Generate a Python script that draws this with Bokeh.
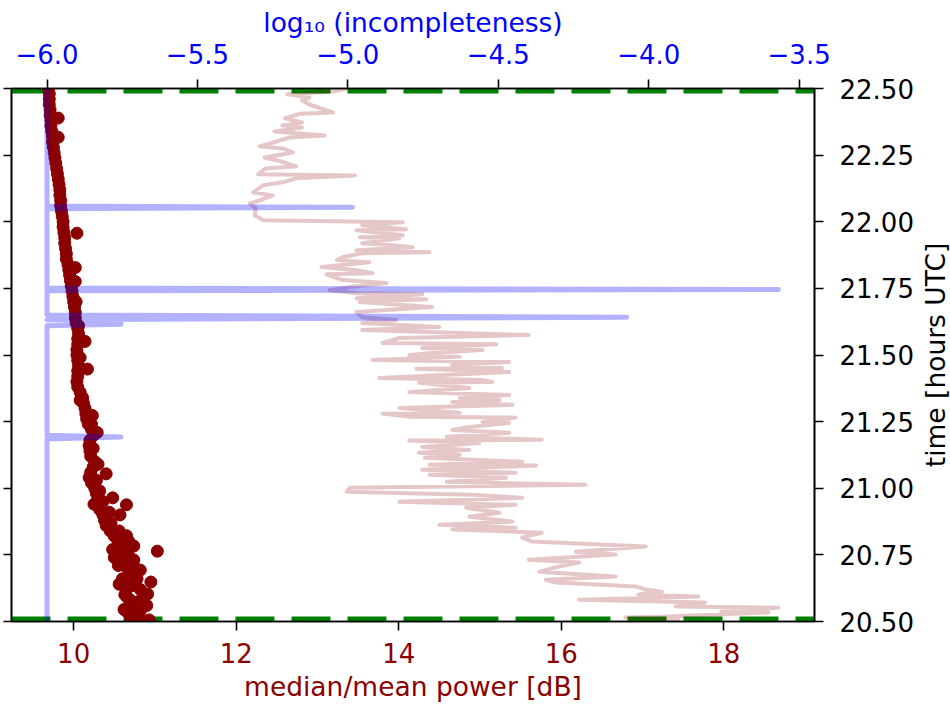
import math
from bokeh.plotting import figure
from bokeh.layouts import row
from bokeh.models import Range1d, LinearAxis, FixedTicker, CustomJSTickFormatter
from bokeh.core.properties import value
from bokeh.embed import file_html
from bokeh.resources import INLINE

FONT = "DejaVu Sans"

# ---------------- data ----------------
# median/mean power [dB] (dark red dots) vs time [hours UTC]
red_t = [20.50, 20.52, 20.54, 20.56, 20.58, 20.60, 20.62, 20.64, 20.66, 20.68,
         20.70, 20.72, 20.74, 20.76, 20.78, 20.80, 20.82, 20.84, 20.86, 20.88,
         20.90, 20.92, 20.94, 20.96, 20.98, 21.00, 21.02, 21.04, 21.06, 21.08,
         21.10, 21.12, 21.14, 21.16, 21.18, 21.20, 21.22, 21.24, 21.26, 21.28,
         21.30, 21.32, 21.34, 21.36, 21.38, 21.40, 21.42, 21.44, 21.46, 21.48,
         21.50, 21.52, 21.54, 21.56, 21.58, 21.60, 21.62, 21.64, 21.66, 21.68,
         21.70, 21.72, 21.74, 21.76, 21.78, 21.80, 21.82, 21.84, 21.86, 21.88,
         21.90, 21.92, 21.94, 21.96, 21.98, 22.00, 22.02, 22.04, 22.06, 22.08,
         22.10, 22.12, 22.14, 22.16, 22.18, 22.20, 22.22, 22.24, 22.26, 22.28,
         22.30, 22.32, 22.34, 22.36, 22.38, 22.40, 22.42, 22.44, 22.46, 22.48,
         22.50]
red_db = [10.84, 10.80, 10.82, 10.75, 10.70, 10.63, 10.65, 10.56, 10.60, 10.70,
          10.66, 10.60, 10.50, 10.62, 10.58, 10.55, 10.50, 10.45, 10.40, 10.38,
          10.36, 10.32, 10.25, 10.30, 10.28, 10.26, 10.22, 10.19, 10.21, 10.24,
          10.26, 10.21, 10.20, 10.19, 10.20, 10.25, 10.22, 10.18, 10.16, 10.15,
          10.14, 10.12, 10.11, 10.08, 10.05, 10.04, 10.05, 10.05, 10.06, 10.05,
          10.04, 10.04, 10.05, 10.05, 10.06, 10.05, 10.03, 10.02, 10.02, 10.01,
          10.00, 9.99, 9.98, 9.97, 9.96, 9.95, 9.94, 9.93, 9.91, 9.91,
          9.90, 9.89, 9.89, 9.88, 9.87, 9.87, 9.86, 9.85, 9.84, 9.84,
          9.83, 9.83, 9.82, 9.81, 9.80, 9.79, 9.78, 9.77, 9.76, 9.75,
          9.74, 9.74, 9.73, 9.72, 9.72, 9.71, 9.71, 9.70, 9.70, 9.70,
          9.69]
red_t_extra = [22.389, 22.317, 21.957, 21.828, 21.776, 21.551, 21.447, 21.273, 21.209,
               21.054, 20.964, 20.938, 20.900, 20.822, 20.783, 20.764, 20.731, 20.693,
               20.648, 20.603, 20.538, 20.506, 20.560, 20.620, 20.670, 20.710, 20.525,
               20.515, 20.545, 20.575, 20.590, 20.635, 20.660, 20.700, 20.745, 20.770,
               20.800, 20.840, 20.870, 20.910, 20.950, 20.990, 21.030, 21.090, 21.150,
               21.240, 21.330, 21.490, 21.610, 21.700]
red_db_extra = [9.81, 9.81, 10.04, 10.02, 10.02, 10.14, 10.17, 10.23, 10.29,
                10.40, 10.48, 10.65, 10.57, 10.65, 10.74, 11.03, 10.74, 10.82,
                10.95, 10.91, 10.65, 10.93, 10.90, 10.82, 10.70, 10.55, 10.74,
                10.70, 10.62, 10.80, 10.66, 10.72, 10.78, 10.76, 10.68, 10.48,
                10.68, 10.56, 10.46, 10.44, 10.36, 10.32, 10.28, 10.30, 10.24,
                10.22, 10.08, 10.08, 10.06, 10.03]

# second power series (pale line) vs time
pink_t = [22.500, 22.489, 22.478, 22.466, 22.455, 22.440, 22.410, 22.405, 22.388, 22.373,
          22.361, 22.354, 22.339, 22.324, 22.316, 22.283, 22.275, 22.260, 22.241, 22.230,
          22.208, 22.200, 22.178, 22.174, 22.163, 22.148, 22.137, 22.110, 22.099, 22.080,
          22.069, 22.051, 22.024, 22.006, 21.998, 21.987, 21.972, 21.968, 21.949, 21.942,
          21.938, 21.919, 21.912, 21.904, 21.893, 21.886, 21.882, 21.867, 21.856, 21.848,
          21.830, 21.818, 21.807, 21.803, 21.781, 21.770, 21.755, 21.743, 21.732, 21.728,
          21.713, 21.709, 21.699, 21.680, 21.661, 21.642, 21.631, 21.620, 21.605, 21.594,
          21.575, 21.564, 21.545, 21.540, 21.526, 21.519, 21.507, 21.500, 21.493, 21.481,
          21.474, 21.463, 21.451, 21.448, 21.436, 21.414, 21.406, 21.399, 21.396, 21.376,
          21.361, 21.350, 21.339, 21.331, 21.324, 21.313, 21.301, 21.283, 21.280, 21.268,
          21.265, 21.249, 21.245, 21.230, 21.219, 21.208, 21.193, 21.182, 21.179, 21.170,
          21.155, 21.144, 21.133, 21.125, 21.114, 21.099, 21.088, 21.085, 21.069, 21.058,
          21.051, 21.039, 21.024, 21.013, 21.002, 20.987, 20.984, 20.976, 20.964, 20.949,
          20.938, 20.927, 20.908, 20.893, 20.875, 20.863, 20.852, 20.845, 20.833, 20.815,
          20.800, 20.781, 20.762, 20.751, 20.732, 20.721, 20.706, 20.687, 20.676, 20.669,
          20.657, 20.646, 20.631, 20.620, 20.612, 20.601, 20.594, 20.582, 20.571, 20.556,
          20.552, 20.537, 20.534, 20.519, 20.515, 20.507]
pink_db = [13.36, 13.19, 12.63, 12.90, 12.81, 12.90, 13.19, 12.78, 12.60, 12.81,
           12.57, 12.81, 12.47, 13.09, 12.66, 12.29, 12.57, 12.70, 12.35, 12.51,
           12.74, 12.36, 12.27, 13.46, 12.74, 12.57, 12.33, 12.21, 12.45, 12.29,
           12.17, 12.24, 12.23, 12.33, 14.05, 13.55, 14.09, 13.48, 14.05, 13.52,
           14.01, 13.55, 13.92, 14.17, 13.48, 14.38, 13.55, 13.31, 13.24, 13.64,
           13.05, 13.48, 13.68, 13.11, 13.31, 13.85, 13.40, 13.15, 13.48, 14.29,
           13.48, 14.34, 13.52, 14.41, 13.48, 13.55, 13.97, 13.55, 14.50, 13.55,
           15.60, 14.01, 13.80, 15.20, 14.29, 15.03, 14.38, 14.13, 14.75, 13.68,
           15.36, 14.66, 15.27, 14.22, 15.36, 13.76, 15.03, 15.15, 14.25, 14.87,
           14.13, 15.36, 14.75, 15.24, 14.66, 15.40, 14.01, 14.75, 13.80, 14.13,
           15.44, 15.03, 15.36, 14.87, 14.66, 15.36, 14.59, 15.76, 14.13, 14.99,
           14.29, 14.87, 14.25, 14.75, 14.32, 15.52, 14.38, 15.69, 14.29, 15.44,
           14.38, 15.32, 14.59, 16.30, 13.40, 13.36, 13.73, 14.90, 15.52, 14.01,
           15.44, 14.83, 15.24, 14.87, 15.40, 14.50, 15.44, 14.66, 15.76, 15.52,
           15.64, 17.04, 16.18, 16.67, 15.60, 16.22, 15.97, 15.73, 16.25, 16.67,
           15.81, 15.93, 16.92, 17.04, 17.24, 16.95, 17.69, 16.22, 17.77, 17.41,
           18.67, 17.97, 18.55, 17.32, 16.79, 17.44]

# log10(incompleteness) vs time (blue)
blue_t = [20.500, 21.185, 21.192, 21.199, 21.610, 21.615, 21.620, 21.626, 21.632,
          21.642, 21.650, 21.741, 21.746, 21.751, 22.049, 22.054, 22.059, 22.500]
blue_log = [-6.0, -6.0, -5.754, -6.0, -6.0, -5.754, -5.80, -5.754, -6.0,
            -4.073, -6.0, -6.0, -3.569, -6.0, -6.0, -4.985, -6.0, -6.0]

# observation window limits (green dashed)
limit_times = [20.5, 22.5]

# axes
power_range = (9.235, 19.117)
inc_range = (-6.118, -3.449)
time_range = (20.5, 22.5)
power_ticks = [10, 12, 14, 16, 18]
inc_ticks = [-6.0, -5.5, -5.0, -4.5, -4.0, -3.5]
time_ticks = [20.5, 20.75, 21.0, 21.25, 21.5, 21.75, 22.0, 22.25, 22.5]

# ---------------- layout ----------------
W_MAIN, W_SIDE, H = 916, 34, 704
BL, BR, BT, BB = 11, 100, 88, 82          # borders around the plot frame

p = figure(width=W_MAIN, height=H,
           x_range=Range1d(*power_range), y_range=Range1d(*time_range),
           output_backend="svg", toolbar_location=None,
           x_axis_location="below", y_axis_location="right",
           min_border_left=BL, min_border_right=BR,
           min_border_top=BT, min_border_bottom=BB)
p.extra_x_ranges = {"inc": Range1d(*inc_range)}
p.xgrid.visible = False
p.ygrid.visible = False
p.outline_line_color = "black"
p.outline_line_width = 1.6
p.background_fill_color = "white"
p.border_fill_color = "white"


def style(ax, ticks, label_color, tick_out, standoff):
    ax.ticker = FixedTicker(ticks=ticks)
    ax.major_tick_out = tick_out
    ax.major_tick_in = 0
    ax.minor_tick_out = 0
    ax.minor_tick_in = 0
    ax.major_tick_line_width = 1.6
    ax.major_tick_line_color = "black"
    ax.axis_line_width = 1.6
    ax.axis_line_color = "black"
    ax.major_label_text_font = FONT
    ax.major_label_text_font_size = "26px"
    ax.major_label_text_color = label_color
    ax.major_label_standoff = standoff
    ax.axis_label_text_font = FONT
    ax.axis_label_text_font_style = "normal"
    ax.axis_label_text_font_size = "26.5px"


bottom = p.below[0]
style(bottom, power_ticks, "#8B0000", 9, 12)
bottom.formatter = CustomJSTickFormatter(code="return tick.toFixed(0);")
bottom.axis_label = "median/mean power [dB]"
bottom.axis_label_text_color = "#8B0000"
bottom.axis_label_standoff = 5

right = p.right[0]
style(right, time_ticks, "black", 9, 16)
right.formatter = CustomJSTickFormatter(code="return tick.toFixed(2);")

top = LinearAxis(x_range_name="inc")
style(top, inc_ticks, "blue", 9, 16)
top.formatter = CustomJSTickFormatter(
    code="return (tick < 0 ? '\u2212' : '') + Math.abs(tick).toFixed(1);")
top.axis_label = "log\u2081\u2080 (incompleteness)"
top.axis_label_text_color = "blue"
top.axis_label_standoff = 3
p.add_layout(top, "above")

left = LinearAxis()
style(left, time_ticks, "black", 8, 0)
left.formatter = CustomJSTickFormatter(code="return '';")
p.add_layout(left, "left")

# ---------------- glyphs ----------------
for lt in limit_times:
    p.line(x=list(power_range), y=[lt, lt], line_color="green", line_width=10,
           line_dash="39 17", line_cap="butt")

p.scatter(x=red_db, y=red_t, size=12, fill_color="#8B0000", line_color="#8B0000")
p.scatter(x=red_db_extra, y=red_t_extra, size=12, fill_color="#8B0000", line_color="#8B0000")

p.line(x=pink_db, y=pink_t, line_color="#8B0000", line_alpha=0.22, line_width=4,
       line_join="round", line_cap="round")

p.line(x=blue_log, y=blue_t, x_range_name="inc", line_color="blue", line_alpha=0.3,
       line_width=5, line_join="round", line_cap="round")

# ---------------- right-hand axis title (reads bottom to top) ----------------
side = figure(width=W_SIDE, height=H, x_range=Range1d(0, W_SIDE), y_range=Range1d(*time_range),
              output_backend="svg", toolbar_location=None,
              x_axis_location=None, y_axis_location=None,
              min_border_left=0, min_border_right=0,
              min_border_top=BT, min_border_bottom=BB)
side.grid.visible = False
side.outline_line_color = None
side.background_fill_color = "white"
side.border_fill_color = "white"
side.text(x=[19], y=[(time_range[0] + time_range[1]) / 2], text=["time [hours UTC]"],
          angle=math.pi / 2, text_align="center", text_baseline="middle",
          text_font=value(FONT), text_font_size="26.5px", text_color="black")

layout = row(p, side)
open("out.html", "w").write(file_html(layout, INLINE))
